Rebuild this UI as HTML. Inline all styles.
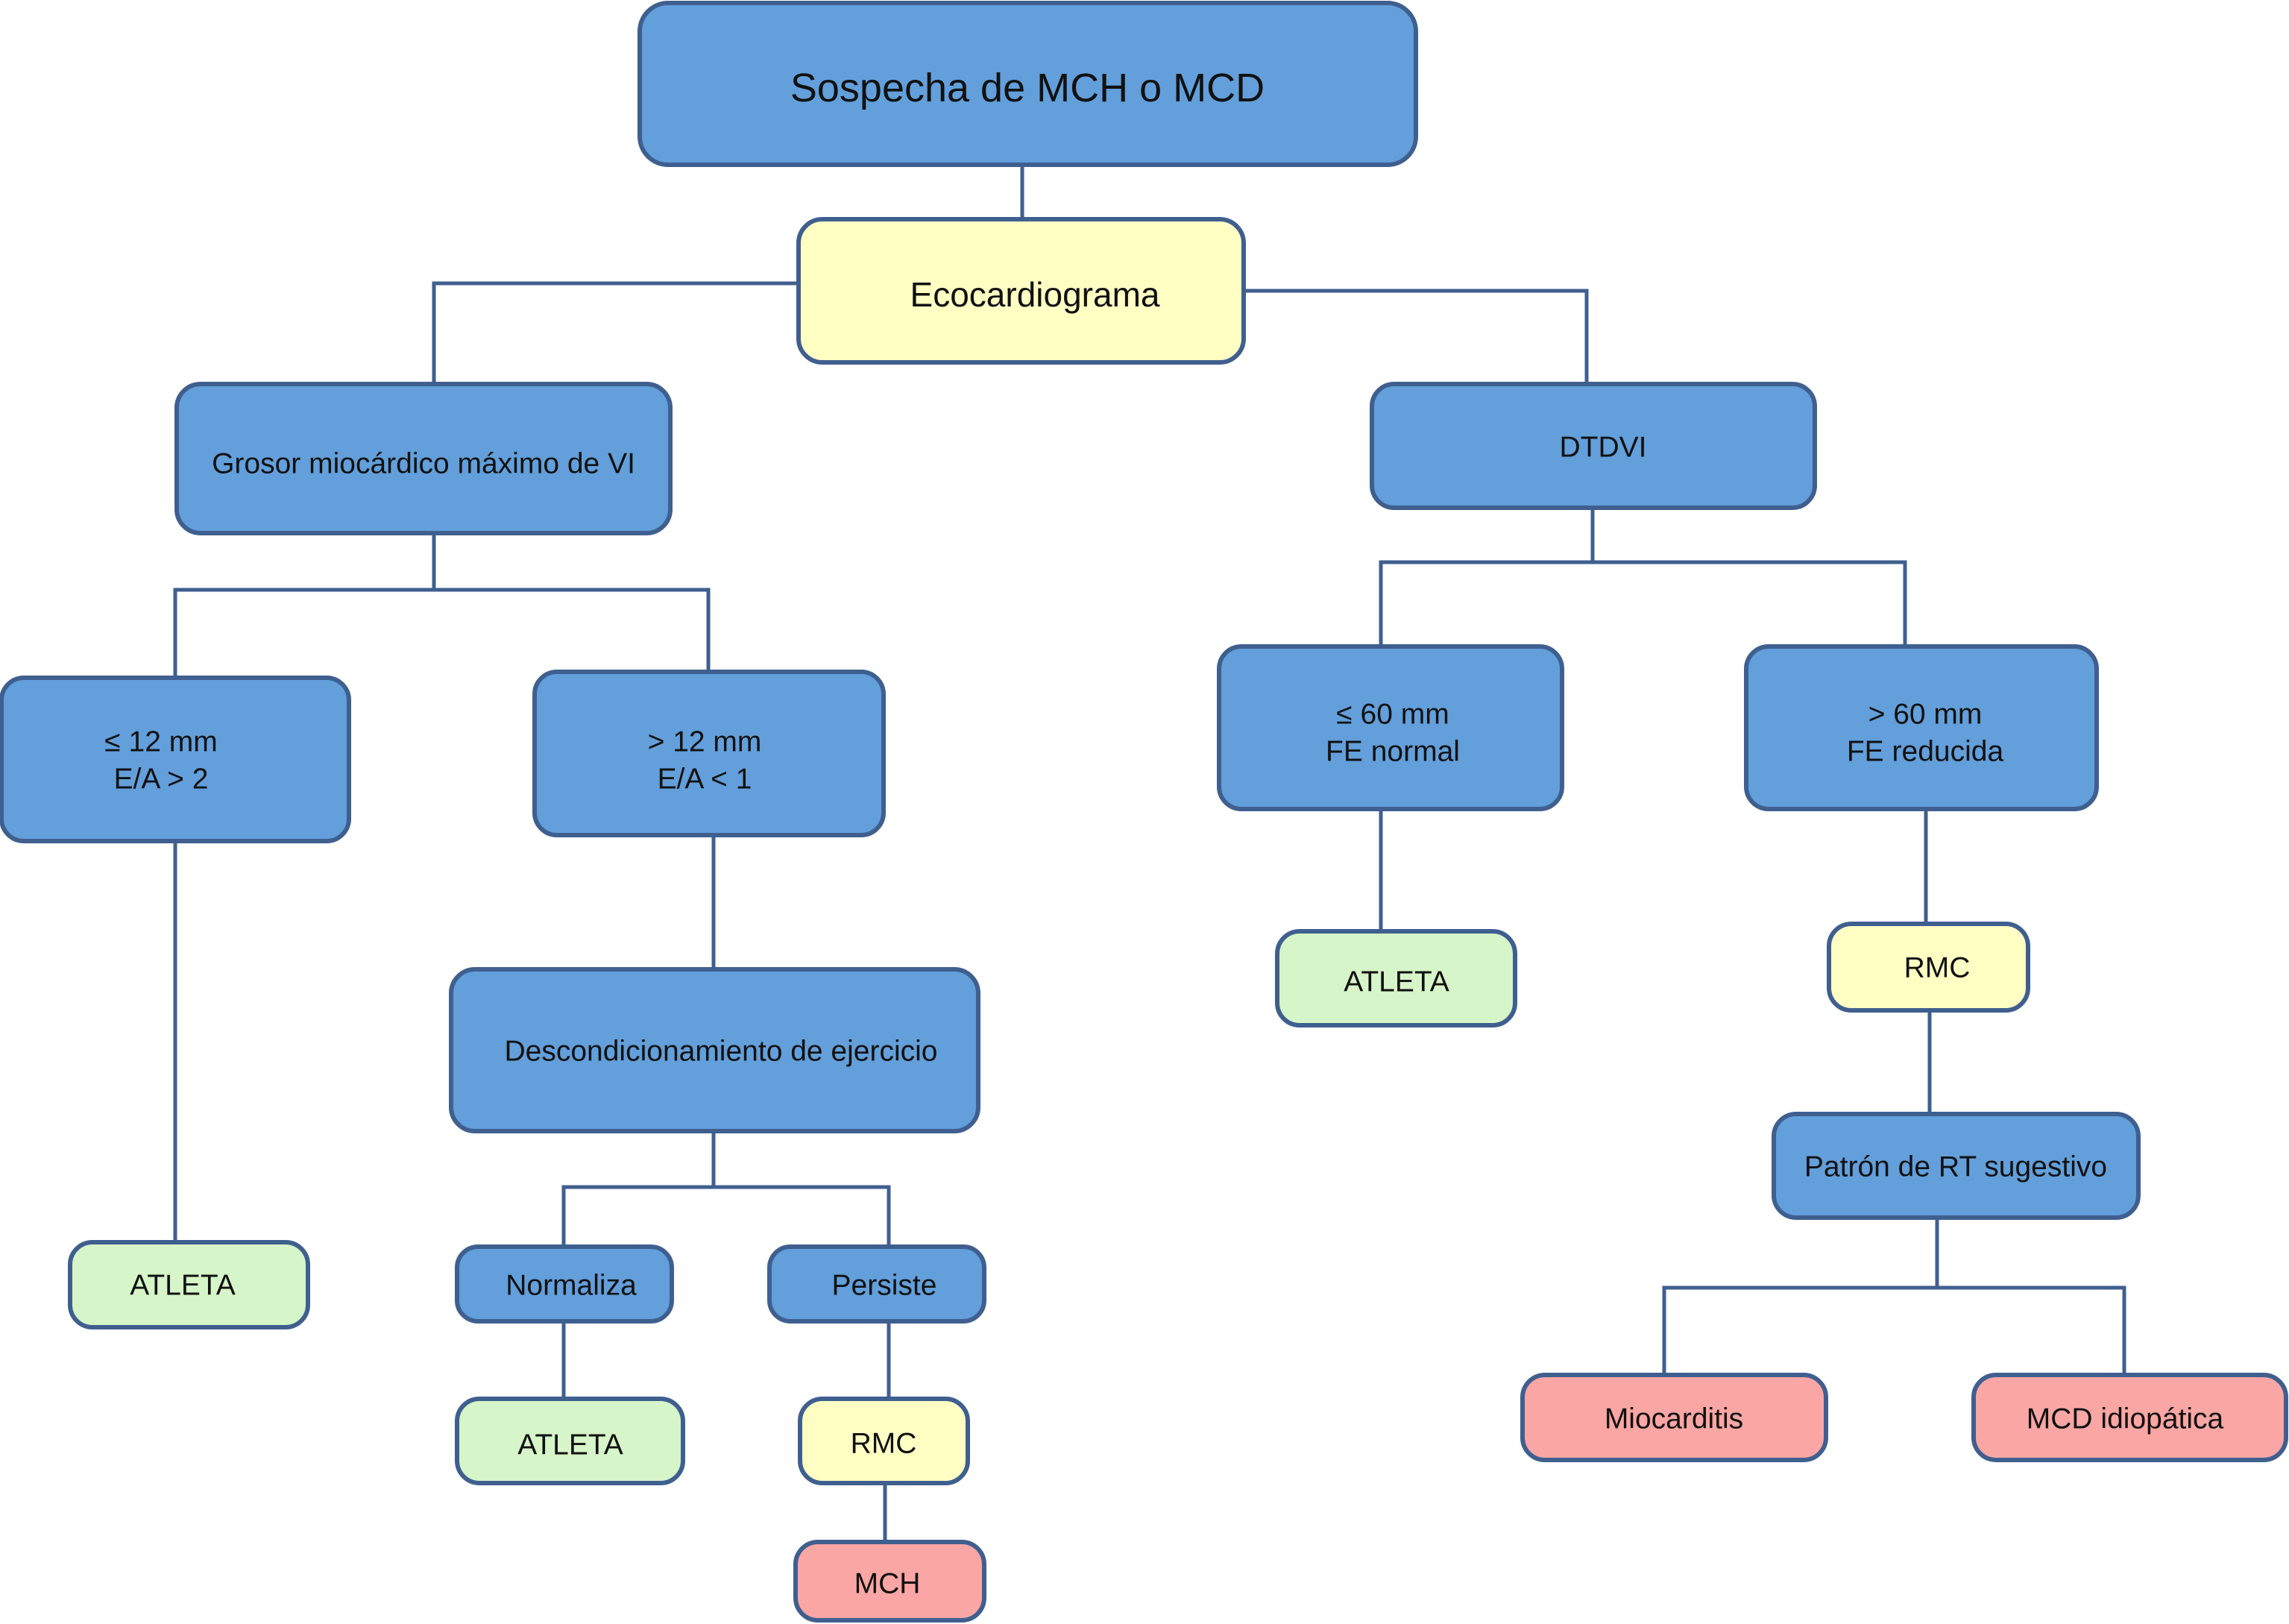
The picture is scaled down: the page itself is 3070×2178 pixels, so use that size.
<!DOCTYPE html>
<html><head><meta charset="utf-8"><style>
html,body{margin:0;padding:0;background:#fff}
svg{display:block}
text{font-family:"Liberation Sans",sans-serif;fill:#111;text-anchor:middle;dominant-baseline:central}
.b{fill:#629FDB}.y{fill:#FFFFC4}.g{fill:#D6F5C8}.p{fill:#F9A6A4}
rect{stroke:#3F5F8F;stroke-width:6}
path{fill:none;stroke:#3F5F8F;stroke-width:5}
</style></head><body>
<svg width="3070" height="2178" viewBox="0 0 3070 2178" xmlns="http://www.w3.org/2000/svg">
<path d="M1371 221V294M1071 380H582V515M1668 390H2128V515M582 715V791M235 909V791H950V901M235 1128V1666M957 1120V1300M957 1517V1592M756 1672V1592H1192V1672M756 1772V1876M1192 1772V1876M1187 1989V2068M2136 681V754M1852 867V754H2555V867M1852 1085V1249M2583 1085V1239M2588 1355V1494M2598 1633V1727M2232 1844V1727H2849V1844"/>
<rect class="b" x="858" y="4" width="1041" height="217" rx="38"/>
<text x="1378" y="118" font-size="54">Sospecha de MCH o MCD</text>
<rect class="y" x="1071" y="294" width="597" height="192" rx="32"/>
<text x="1388" y="395" font-size="46">Ecocardiograma</text>
<rect class="b" x="237" y="515" width="662" height="200" rx="32"/>
<text x="568" y="622" font-size="39">Grosor miocárdico máximo de VI</text>
<rect class="b" x="1840" y="515" width="594" height="166" rx="30"/>
<text x="2150" y="600" font-size="39">DTDVI</text>
<rect class="b" x="2" y="909" width="466" height="219" rx="30"/>
<text x="216" y="995" font-size="39">≤ 12 mm</text><text x="216" y="1045" font-size="39">E/A &gt; 2</text>
<rect class="b" x="717" y="901" width="468" height="219" rx="30"/>
<text x="945" y="995" font-size="39">&gt; 12 mm</text><text x="945" y="1045" font-size="39">E/A &lt; 1</text>
<rect class="b" x="1635" y="867" width="460" height="218" rx="30"/>
<text x="1868" y="958" font-size="39">≤ 60 mm</text><text x="1868" y="1008" font-size="39">FE normal</text>
<rect class="b" x="2342" y="867" width="470" height="218" rx="30"/>
<text x="2582" y="958" font-size="39">&gt; 60 mm</text><text x="2582" y="1008" font-size="39">FE reducida</text>
<rect class="g" x="1713" y="1249" width="319" height="126" rx="30"/>
<text x="1873" y="1317" font-size="39">ATLETA</text>
<rect class="y" x="2453" y="1239" width="267" height="116" rx="30"/>
<text x="2598" y="1298" font-size="39">RMC</text>
<rect class="b" x="2379" y="1494" width="489" height="139" rx="30"/>
<text x="2623" y="1565" font-size="39">Patrón de RT sugestivo</text>
<rect class="p" x="2042" y="1844" width="407" height="114" rx="30"/>
<text x="2245" y="1903" font-size="39">Miocarditis</text>
<rect class="p" x="2647" y="1844" width="419" height="114" rx="30"/>
<text x="2850" y="1903" font-size="39">MCD idiopática</text>
<rect class="b" x="605" y="1300" width="707" height="217" rx="32"/>
<text x="967" y="1410" font-size="39">Descondicionamiento de ejercicio</text>
<rect class="g" x="94" y="1666" width="319" height="114" rx="30"/>
<text x="245" y="1724" font-size="39">ATLETA</text>
<rect class="b" x="613" y="1672" width="288" height="100" rx="28"/>
<text x="766" y="1724" font-size="39">Normaliza</text>
<rect class="b" x="1032" y="1672" width="288" height="100" rx="28"/>
<text x="1186" y="1724" font-size="39">Persiste</text>
<rect class="g" x="613" y="1876" width="303" height="113" rx="30"/>
<text x="765" y="1938" font-size="39">ATLETA</text>
<rect class="y" x="1073" y="1876" width="225" height="113" rx="30"/>
<text x="1185" y="1936" font-size="39">RMC</text>
<rect class="p" x="1067" y="2068" width="253" height="105" rx="30"/>
<text x="1190" y="2124" font-size="39">MCH</text>
</svg>
</body></html>
